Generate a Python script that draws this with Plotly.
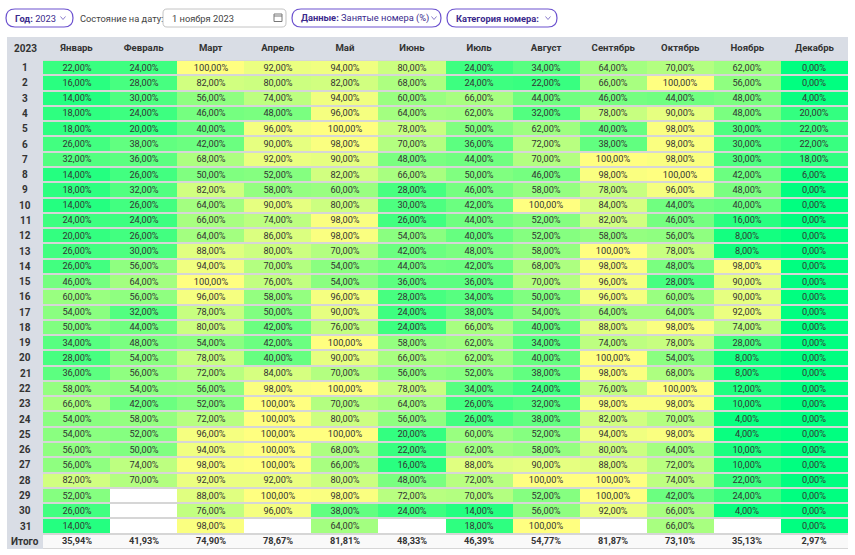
import plotly.graph_objects as go

# данные: загрузка номеров по дням, %
months = ["Январь", "Февраль", "Март", "Апрель", "Май", "Июнь",
          "Июль", "Август", "Сентябрь", "Октябрь", "Ноябрь", "Декабрь"]
days = [str(d) for d in range(1, 32)]

jan = [22, 16, 14, 18, 18, 26, 32, 14, 18, 14, 24, 20, 26, 26, 46, 60,
       54, 50, 34, 28, 36, 58, 66, 54, 54, 56, 56, 82, 52, 26, 14]
feb = [24, 28, 30, 24, 20, 38, 36, 26, 32, 26, 24, 26, 30, 56, 64, 56,
       32, 44, 48, 54, 56, 54, 42, 58, 52, 50, 74, 70, None, None, None]
mar = [100, 82, 56, 46, 40, 42, 68, 50, 82, 64, 66, 64, 88, 94, 100, 96,
       78, 80, 54, 78, 72, 56, 52, 72, 96, 94, 98, 92, 88, 76, 98]
apr = [92, 80, 74, 48, 96, 90, 92, 52, 58, 90, 74, 86, 80, 70, 76, 58,
       50, 42, 42, 40, 84, 98, 100, 100, 100, 100, 100, 92, 100, 96, None]
may = [94, 82, 94, 96, 100, 98, 90, 82, 60, 80, 98, 98, 70, 54, 54, 96,
       90, 76, 100, 90, 70, 100, 70, 80, 100, 68, 66, 80, 98, 38, 64]
jun = [80, 68, 60, 64, 78, 70, 48, 66, 28, 30, 26, 54, 42, 44, 36, 28,
       24, 24, 58, 66, 56, 78, 64, 56, 20, 22, 16, 48, 72, 24, None]
jul = [24, 24, 66, 62, 50, 36, 44, 50, 46, 42, 44, 40, 48, 42, 36, 34,
       38, 66, 62, 62, 52, 34, 26, 26, 60, 62, 88, 72, 70, 14, 18]
aug = [34, 22, 44, 32, 62, 72, 70, 46, 58, 100, 52, 52, 58, 68, 70, 50,
       54, 40, 34, 40, 38, 24, 32, 38, 52, 58, 90, 100, 52, 56, 100]
sep = [64, 66, 46, 78, 40, 38, 100, 98, 78, 84, 82, 58, 100, 98, 96, 96,
       64, 88, 74, 100, 98, 76, 98, 82, 94, 80, 88, 100, 100, 92, None]
oct_ = [70, 100, 44, 90, 98, 98, 98, 100, 96, 44, 46, 56, 78, 48, 28, 60,
        64, 98, 78, 54, 68, 100, 98, 70, 98, 64, 72, 74, 42, 66, 66]
nov = [62, 56, 48, 48, 30, 30, 30, 42, 48, 40, 16, 8, 8, 98, 90, 90,
       92, 74, 28, 8, 8, 12, 10, 4, 4, 10, 10, 22, 24, 4, None]
dec = [0, 0, 4, 20, 22, 22, 18, 6, 0, 0, 0, 0, 0, 0, 0, 0,
       0, 0, 0, 0, 0, 0, 0, 0, 0, 0, 0, 0, 0, 0, 0]

totals = [35.94, 41.93, 74.90, 78.67, 81.81, 48.33,
          46.39, 54.77, 81.87, 73.10, 35.13, 2.97]

rows = days + ["Итого"]
columns = [jan, feb, mar, apr, may, jun, jul, aug, sep, oct_, nov, dec]
empty = [None] * 12

z = [[col[i] for col in columns] for i in range(31)] + [empty]
blank = [[1 if v is None else None for v in r] for r in z[:31]] + [empty]
ztot = [empty] * 31 + [totals]


def fmt(v, bold=False):
    if v is None:
        return ""
    s = f"{v:.2f}".replace(".", ",") + "%"
    return f"<b>{s}</b>" if bold else s


text = [[fmt(v) for v in r] for r in z]
text_tot = [[""] * 12] * 31 + [[fmt(v, True) for v in totals]]

# размеры в пикселях
W, H = 855, 555
L, R, T, B = 43, 7, 60, 6
PW, PH = W - L - R, H - T - B


def px(x):
    return (x - L) / PW


def py(y):
    return 1 - (y - T) / PH


def rounded(x0, y0, x1, y1, r):
    # путь прямоугольника со скруглёнными углами (пиксели -> paper)
    pts = [
        ("M", [(x0 + r, y0)]),
        ("L", [(x1 - r, y0)]),
        ("Q", [(x1, y0), (x1, y0 + r)]),
        ("L", [(x1, y1 - r)]),
        ("Q", [(x1, y1), (x1 - r, y1)]),
        ("L", [(x0 + r, y1)]),
        ("Q", [(x0, y1), (x0, y1 - r)]),
        ("L", [(x0, y0 + r)]),
        ("Q", [(x0, y0), (x0 + r, y0)]),
    ]
    s = ""
    for cmd, p in pts:
        s += cmd + " ".join(f"{px(a):.5f},{py(b):.5f}" for a, b in p) + " "
    return s + "Z"


font = "Roboto"
txt = "#333333"
purple = "#6c52cf"
dark_purple = "#3a2a8c"

fig = go.Figure()

# пустые дни (нет такой даты) — белые
fig.add_trace(go.Heatmap(
    x=months, y=rows, z=blank,
    colorscale=[[0, "#ffffff"], [1, "#ffffff"]],
    showscale=False, ygap=2, hoverinfo="skip",
))

fig.add_trace(go.Heatmap(
    x=months, y=rows, z=z,
    zmin=0, zmax=100,
    colorscale=[[0, "rgb(0,255,128)"], [1, "rgb(255,255,128)"]],
    showscale=False, ygap=2,
    text=text, texttemplate="%{text}",
    textfont=dict(family=font, size=9.2, color=txt),
    hovertemplate="%{y} %{x}: %{z:.2f}%<extra></extra>",
))

fig.add_trace(go.Heatmap(
    x=months, y=rows, z=ztot,
    colorscale=[[0, "#f9f9f9"], [1, "#f9f9f9"]],
    showscale=False, ygap=2,
    text=text_tot, texttemplate="%{text}",
    textfont=dict(family=font, size=9.2, color=txt),
    hovertemplate="Итого %{x}: %{z:.2f}%<extra></extra>",
))

shapes = [
    # серая шапка и левая колонка
    dict(type="rect", xref="paper", yref="paper", x0=px(7), x1=px(848),
         y0=py(37), y1=py(60), fillcolor="#d9dde5", line_width=0, layer="below"),
    dict(type="rect", xref="paper", yref="paper", x0=px(7), x1=px(43),
         y0=py(37), y1=py(549), fillcolor="#d9dde5", line_width=0, layer="below"),
    # фильтры
    dict(type="path", xref="paper", yref="paper", path=rounded(6, 9, 73, 27, 9),
         fillcolor="white", line=dict(color=purple, width=1.2)),
    dict(type="path", xref="paper", yref="paper", path=rounded(163, 9, 286, 27, 4),
         fillcolor="white", line=dict(color="#c4c4c4", width=1)),
    dict(type="path", xref="paper", yref="paper", path=rounded(292, 9, 441, 27, 9),
         fillcolor="white", line=dict(color=purple, width=1.2)),
    dict(type="path", xref="paper", yref="paper", path=rounded(447, 9, 557, 27, 9),
         fillcolor="white", line=dict(color=purple, width=1.2)),
    # иконка календаря
    dict(type="rect", xref="paper", yref="paper", x0=px(274), x1=px(282),
         y0=py(14), y1=py(21.5), line=dict(color="#777777", width=1)),
    dict(type="line", xref="paper", yref="paper", x0=px(274), x1=px(282),
         y0=py(16), y1=py(16), line=dict(color="#777777", width=1)),
]
for cx in [63, 434, 548]:
    shapes.append(dict(
        type="path", xref="paper", yref="paper",
        path=f"M{px(cx - 2.5):.5f},{py(16.5):.5f} L{px(cx):.5f},{py(19.5):.5f} "
             f"L{px(cx + 2.5):.5f},{py(16.5):.5f}",
        line=dict(color="#8a7ccc", width=1),
    ))

annotations = [
    dict(text="<b>Год:</b> 2023", x=px(13), y=py(18), xanchor="left",
         font=dict(color=dark_purple)),
    dict(text="Состояние на дату:", x=px(78), y=py(18), xanchor="left",
         font=dict(color="#444444")),
    dict(text="1 ноября 2023", x=px(170), y=py(18), xanchor="left",
         font=dict(color="#444444")),
    dict(text="<b>Данные:</b> Занятые номера (%)", x=px(299), y=py(18),
         xanchor="left", font=dict(color=dark_purple)),
    dict(text="<b>Категория номера:</b>", x=px(454), y=py(18), xanchor="left",
         font=dict(color=dark_purple)),
]
for a in annotations:
    a["font"]["size"] = 9.3
annotations.append(dict(text="<b>2023</b>", x=px(25), y=py(48.5),
                        xanchor="center", font=dict(color=txt, size=10)))
# подписи строк: на категориальной оси позиция задаётся индексом
for i, d in enumerate(rows):
    annotations.append(dict(text=f"<b>{d}</b>", x=px(25), y=i, yref="y",
                            xanchor="center", font=dict(color=txt, size=10)))
for a in annotations:
    a.setdefault("xref", "paper")
    a.setdefault("yref", "paper")
    a["showarrow"] = False
    a["yanchor"] = "middle"
    a["font"] = dict(family=font, **a["font"])

fig.update_layout(
    width=W, height=H,
    margin=dict(l=L, r=R, t=T, b=B),
    paper_bgcolor="white",
    plot_bgcolor="#d6d6d6",
    font=dict(family=font, size=10, color=txt),
    shapes=shapes,
    annotations=annotations,
    xaxis=dict(type="category", categoryarray=months, side="top",
               showgrid=False, zeroline=False, ticks="", showline=False,
               tickfont=dict(family=font, size=9.6, color=txt, weight="bold"),
               ticklabelstandoff=6, fixedrange=True),
    yaxis=dict(type="category", categoryarray=rows,
               autorange="reversed", showticklabels=False, showgrid=False,
               zeroline=False, fixedrange=True),
)

# убираем стандартный отступ body, чтобы фигура легла в окно 855x555
fig.write_html("out.html", config={"displayModeBar": False},
               post_script="document.body.style.margin='0';")
